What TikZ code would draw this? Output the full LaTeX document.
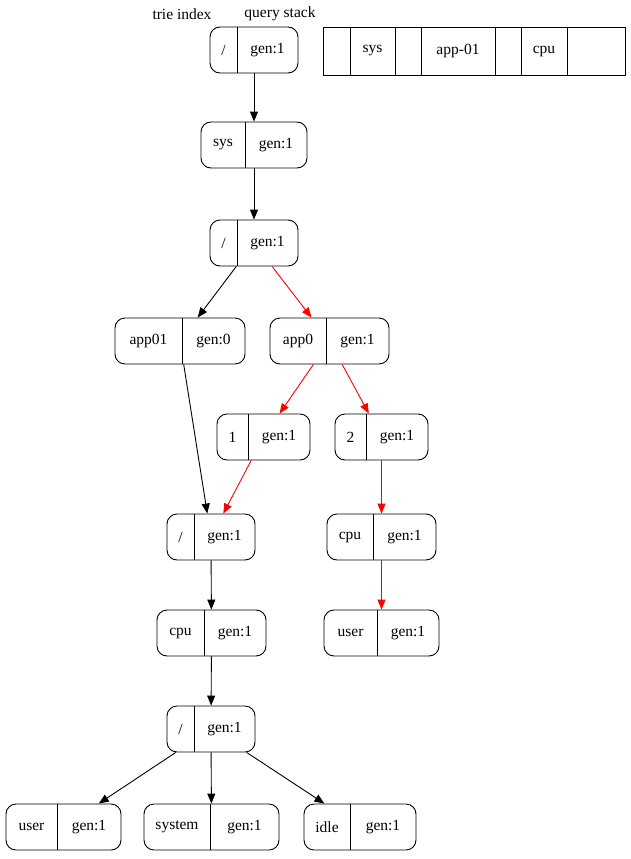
\documentclass[tikz,border=0pt]{standalone}
\usepackage{fontspec}
\setmainfont{Liberation Serif}
\usetikzlibrary{arrows.meta}
\tikzset{
  rec/.style={draw, rounded corners=10pt, inner sep=0pt, minimum height=46pt, line width=0.9pt},
  qbox/.style={draw, inner sep=0pt, minimum height=48pt, line width=0.9pt},
  edge/.style={line width=0.9pt, -{Triangle[length=10pt,width=8pt]}},
  hot/.style={edge, red, -{Triangle[length=10pt,width=8pt,fill=red]}},
  lbl/.style={inner sep=0pt}
}
\newcommand\rec[7]{%
  \node[rec, minimum width={(#3-#2)*1pt}] (#1) at ({(#2+#3)/2},{#4+23}) {};
  \draw[line width=0.9pt] (#5,#4) -- (#5,{#4+46});
  \node[lbl] at ({(#2+#5)/2},{#4+23}) {#6};
  \node[lbl] at ({(#5+#3)/2},{#4+23}) {#7};
}
\begin{document}
\begin{tikzpicture}[x=1pt,y=-1pt,font=\fontsize{15.5}{18}\selectfont]
\useasboundingbox (0,0) rectangle (631,859);
\node[lbl] (t1) at (182,14) {trie index};
\node[lbl] (t2) at (280,14) {query stack};
\rec{n1}{210}{298}{27}{237}{/}{gen:1}
\rec{n2}{201}{307}{122}{245}{sys}{gen:1}
\rec{n3}{210}{298}{220}{237}{/}{gen:1}
\rec{n4}{115}{245}{318}{182}{app01}{gen:0}
\rec{n5}{270}{389}{318}{326}{app0}{gen:1}
\rec{n6}{217}{310}{414}{248}{1}{gen:1}
\rec{n7}{335}{428}{414}{366}{2}{gen:1}
\rec{n8}{167}{255}{514}{194}{/}{gen:1}
\rec{n9}{327}{436}{514}{373}{cpu}{gen:1}
\rec{n10}{157}{266}{610}{204}{cpu}{gen:1}
\rec{n11}{324}{439}{610}{377}{user}{gen:1}
\rec{n12}{167}{255}{706}{194}{/}{gen:1}
\rec{n13}{6}{121}{804}{57}{user}{gen:1}
\rec{n14}{144}{279}{804}{210}{system}{gen:1}
\rec{n15}{304}{416}{804}{350}{idle}{gen:1}
\node[qbox, minimum width=302pt] (qs) at (474,51) {};
\foreach \x in {350,395,421,495,521,567} \draw[line width=0.9pt] (\x,27) -- (\x,75);
\foreach \x/\t in {336.5//,372.5/sys,408//,458/app-01,508//,544/cpu,596//user}
  \node[lbl] at (\x,51) {\t};
\draw[edge] (n1) -- (n2);
\draw[edge] (n2) -- (n3);
\draw[edge] (n3) -- (n4);
\draw[hot] (n3) -- (n5);
\draw[edge] (n4) -- (n8);
\draw[hot] (n5) -- (n6);
\draw[hot] (n5) -- (n7);
\draw[hot] (n6) -- (n8);
\draw[hot] (n7) -- (n9);
\draw[hot] (n9) -- (n11);
\draw[edge] (n8) -- (n10);
\draw[edge] (n10) -- (n12);
\draw[edge] (n12) -- (n13);
\draw[edge] (n12) -- (n14);
\draw[edge] (n12) -- (n15);
\end{tikzpicture}
\end{document}
